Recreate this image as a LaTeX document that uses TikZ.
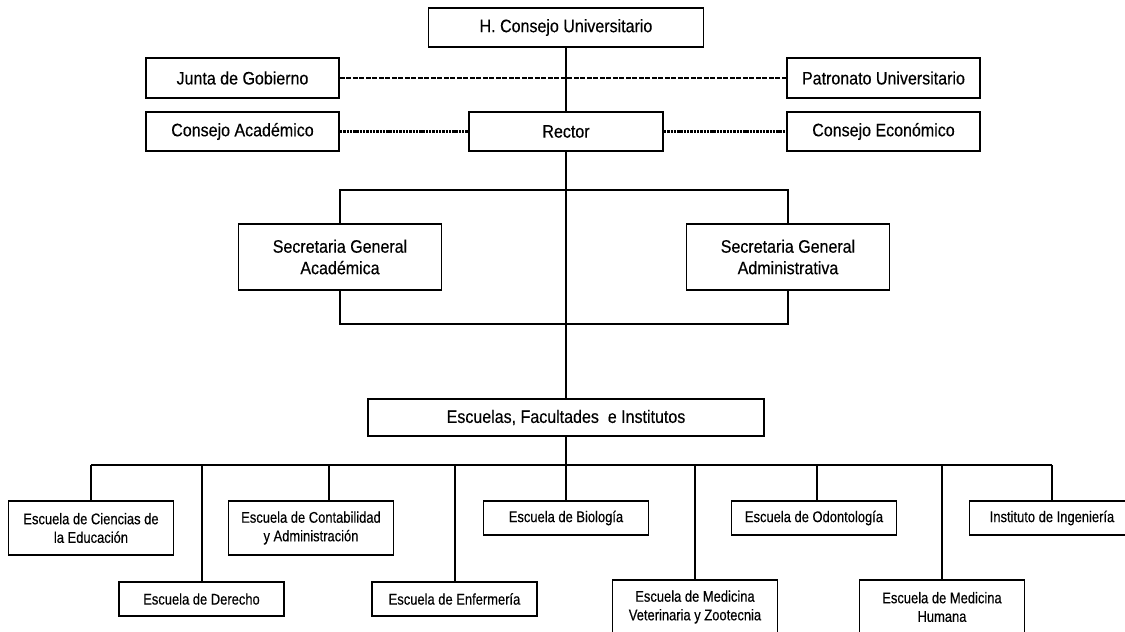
\documentclass[tikz,border=0pt]{standalone}
\usepackage{fontspec}
\setmainfont{Liberation Sans}
\newfontfamily\topfont[FakeStretch=0.89,FakeBold=0.35]{Liberation Sans}
\newfontfamily\unitfont[FakeStretch=0.835,FakeBold=0.35]{Liberation Sans}
\begin{document}
\begin{tikzpicture}[x=1pt,y=-1pt,
  box/.style={draw, line width=1.8pt, fill=white, align=center, inner sep=0pt,
    font=\topfont\fontsize{18}{21.5}\selectfont},
  unit/.style={draw, line width=1.8pt, fill=white, align=center, inner sep=0pt,
    minimum width=165pt, font=\unitfont\fontsize{15.5}{18.6}\selectfont},
  conn/.style={line width=1.4pt},
  busline/.style={line width=1.9pt},
  advisory/.style={line width=1.2pt, dash pattern=on 5pt off 1.5pt},
  council/.style={line width=2.7pt, dash pattern=on 2.4pt off 0.9pt}]
\clip (0,0) rectangle (1125,632);
\fill[white] (0,0) rectangle (1125,632);

% governing bodies
\node[box, minimum width=275pt, minimum height=39pt] (hcu) at (566,27.5) {H. Consejo Universitario};
\node[box, minimum width=193pt, minimum height=40pt] (junta) at (242.5,78) {Junta de Gobierno};
\node[box, minimum width=193pt, minimum height=40pt] (patro) at (883.5,78) {Patronato Universitario};
\node[box, minimum width=193pt, minimum height=39pt] (cacad) at (242.5,131.5) {Consejo Académico};
\node[box, minimum width=194pt, minimum height=39pt] (rector) at (566,131.5) {Rector};
\node[box, minimum width=193pt, minimum height=39pt] (cecon) at (883.5,131.5) {Consejo Económico};

% general secretariats
\node[box, minimum width=203pt, minimum height=66pt] (sga) at (340,257) {Secretaria General\\Académica};
\node[box, minimum width=203pt, minimum height=66pt] (sgad) at (788,257) {Secretaria General\\Administrativa};

% academic units
\node[box, minimum width=396pt, minimum height=37pt] (efi) at (566,417.5) {Escuelas, Facultades\ \ e Institutos};

\node[unit, minimum height=54pt] (cienc) at (91,528) {Escuela de Ciencias de\\la Educación};
\node[unit, minimum height=54pt] (conta) at (311,528) {Escuela de Contabilidad\\y Administración};
\node[unit, minimum height=34pt] (bio) at (566,518) {Escuela de Biología};
\node[unit, minimum height=34pt] (odon) at (814,518) {Escuela de Odontología};
\node[unit, minimum height=34pt] (inst) at (1052,518) {Instituto de Ingeniería};
\node[unit, minimum height=34pt] (derecho) at (201.5,599) {Escuela de Derecho};
\node[unit, minimum height=34pt] (enferm) at (454.5,599) {Escuela de Enfermería};
\node[unit, minimum height=54pt] (medvet) at (695,607) {Escuela de Medicina\\Veterinaria y Zootecnia};
\node[unit, minimum height=54pt] (medhum) at (942,607) {Escuela de Medicina\\Humana};

% line of authority
\draw[conn] (hcu) -- (rector);
\draw[conn] (rector) -- (efi);

% advisory links
\draw[advisory] (junta) -- (patro);
\draw[council] (cacad) -- (rector);
\draw[council] (rector) -- (cecon);

% bracket around the secretariats
\coordinate (btl) at (340,190);
\coordinate (btr) at (788,190);
\coordinate (bbl) at (340,324);
\coordinate (bbr) at (788,324);
\draw[conn] (sga.north) -- (btl) -- (btr) -- (sgad.north);
\draw[conn] (sga.south) -- (bbl) -- (bbr) -- (sgad.south);

% distribution bus to the schools
\coordinate (busL) at (91,465);
\coordinate (busR) at (1052,465);
\draw[busline] (busL) -- (busR);
\draw[conn] (efi.south) -- (efi.south |- busL);
\foreach \n/\x in {cienc/91, derecho/202, conta/329, enferm/455, bio/566,
                   medvet/695, odon/817, medhum/942, inst/1052} {
  \coordinate (d\n) at (\x,465);
  \draw[conn] (d\n) -- (d\n |- \n.north);
}
\end{tikzpicture}
\end{document}
